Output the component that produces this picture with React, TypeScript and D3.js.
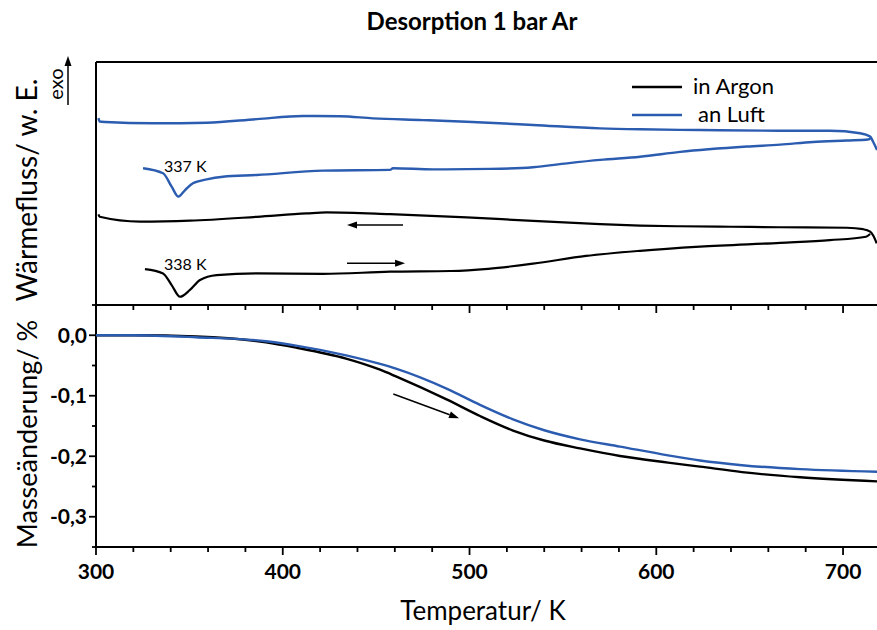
import React from "react";
import * as d3 from "d3";

// ---------- data ----------
const xTicksMajor = [300, 400, 500, 600, 700];
const yTicksMass = [0, -0.1, -0.2, -0.3];
const yTickLabels = ["0,0", "-0,1", "-0,2", "-0,3"];

// DSC (top panel, arbitrary units)
const blueCoolT = [301.3, 302.0, 305, 330.5, 345, 359.4, 386.2, 410.8, 430.7, 448.3, 475.1, 498.5, 534.0, 569.9, 591.3, 623.4, 666.3, 693.0, 709.1, 714.5, 716.1, 718.2];
const blueCoolV = [76.9, 75.5, 75.3, 74.8, 74.8, 75.0, 76.5, 77.8, 77.7, 76.8, 76.1, 75.4, 74.1, 72.7, 72.3, 72.0, 71.7, 71.7, 70.7, 69.3, 67.2, 63.8];

const blueHeatT = [325.2, 335.9, 340.5, 344.1, 347.7, 351.9, 359.3, 368.0, 386.1, 421.6, 457.4, 459.0, 480.5, 511.0, 534.0, 552.2, 569.9, 591.3, 612.7, 648.6, 666.3, 683.9, 702.1, 713.4, 715.0];
const blueHeatV = [56.3, 54.2, 48.7, 44.6, 47.3, 50.1, 51.7, 52.8, 53.5, 55.3, 55.6, 56.3, 55.8, 56.0, 56.7, 58.3, 59.7, 61.0, 63.0, 65.2, 66.0, 67.1, 67.7, 68.1, 68.8];

const blackCoolT = [301.3, 302.0, 323.6, 350.3, 386.1, 412.8, 423.5, 457.4, 498.5, 534.0, 569.9, 591.3, 612.7, 640.0, 666.3, 702.1, 710.7, 714.5, 716.3, 718.0];
const blackCoolV = [37.3, 36.3, 34.3, 34.7, 36.3, 37.7, 38.1, 37.4, 36.1, 34.6, 33.3, 32.7, 32.4, 32.2, 32.0, 31.8, 31.2, 30.2, 28.4, 25.4];

const blackHeatT = [326.2, 335.9, 340.5, 345.0, 350.3, 355.7, 364.6, 386.1, 421.6, 457.4, 490.0, 510.0, 534.0, 562.4, 591.3, 623.4, 666.3, 693.0, 712.3, 714.5];
const blackHeatV = [14.8, 13.0, 8.2, 3.4, 6.2, 10.3, 12.3, 13.0, 12.8, 13.7, 14.0, 14.9, 17.0, 20.2, 22.3, 24.0, 25.6, 26.7, 28.1, 29.2];

// TG (bottom panel, %)
const tgT = [300, 320, 353.5, 391, 407.1, 433.9, 452.1, 460.6, 488.0, 505.6, 523.3, 540.0, 559.2, 580.6, 606.3, 623.4, 645.9, 677.0, 718.2];
const tgBlue = [0, 0, -0.0033, -0.010, -0.0171, -0.0332, -0.0474, -0.0552, -0.0886, -0.1150, -0.1390, -0.1570, -0.1720, -0.1840, -0.1985, -0.2070, -0.2148, -0.2213, -0.2255];
const tgBlack = [0, 0, -0.002, -0.0116, -0.0204, -0.0386, -0.0570, -0.0680, -0.1065, -0.1335, -0.1575, -0.1740, -0.1870, -0.1995, -0.2105, -0.2172, -0.2262, -0.2348, -0.2416];

const seriesNames = ["in Argon", "an Luft"];
const BLUE = "#2b5cb0";
const FONT = "Lato, 'Open Sans', sans-serif";

export default function App() {
  const W = 877, H = 630;
  const left = 96, right = 880.4;
  const x = d3.scaleLinear().domain([300, 720]).range([left, right]);
  const yTop = d3.scaleLinear().domain([0, 100]).range([305, 62]);
  const yBot = d3.scaleLinear().domain([-0.35, 0.05]).range([547, 305]);

  const topLine = d3.line<[number, number]>().x(d => x(d[0])).y(d => yTop(d[1])).curve(d3.curveMonotoneX);
  const botLine = d3.line<[number, number]>().x(d => x(d[0])).y(d => yBot(d[1])).curve(d3.curveMonotoneX);
  const zip = (a: number[], b: number[]) => a.map((v, i) => [v, b[i]] as [number, number]);

  const minor = d3.range(300, 721, 20);
  const yMinor = d3.range(-0.35, 0.051, 0.05);

  const arrow = (x1: number, y1: number, x2: number, y2: number, key: string, sw = 1.5) => {
    const ang = Math.atan2(y2 - y1, x2 - x1);
    const L = 10, Wd = 3.5;
    const bx = x2 - L * Math.cos(ang), by = y2 - L * Math.sin(ang);
    const px = -Math.sin(ang) * Wd, py = Math.cos(ang) * Wd;
    return (
      <g key={key}>
        <line x1={x1} y1={y1} x2={bx} y2={by} stroke="#000" strokeWidth={sw} />
        <path d={`M${x2},${y2}L${bx + px},${by + py}L${bx - px},${by - py}Z`} fill="#000" />
      </g>
    );
  };

  return (
    <svg width={W} height={H} style={{ position: "absolute", left: 0, top: 0, background: "#fff" }} fontFamily={FONT}>
      <rect x={0} y={0} width={W} height={H} fill="#fff" />
      {/* title */}
      <text x={472} y={30} textAnchor="middle" fontWeight="bold" fontSize={24}>Desorption 1 bar Ar</text>

      {/* frame */}
      <line x1={left} y1={62} x2={W} y2={62} stroke="#000" strokeWidth={2} />
      <line x1={left} y1={62} x2={left} y2={547} stroke="#000" strokeWidth={2} />
      <line x1={left} y1={305} x2={W} y2={305} stroke="#000" strokeWidth={2} />
      <line x1={left} y1={547} x2={W} y2={547} stroke="#000" strokeWidth={2} />

      {/* x ticks */}
      {minor.map(t => {
        const maj = t % 100 === 0;
        return (
          <g key={"xt" + t}>
            <line x1={x(t)} x2={x(t)} y1={305} y2={305 + (maj ? 8 : 5)} stroke="#000" strokeWidth={1.8} />
            <line x1={x(t)} x2={x(t)} y1={547} y2={547 + (maj ? 8 : 5)} stroke="#000" strokeWidth={1.8} />
          </g>
        );
      })}
      {xTicksMajor.map(t => (
        <text key={"xl" + t} x={x(t)} y={579} textAnchor="middle" fontWeight="bold" fontSize={21}>{t}</text>
      ))}

      {/* y ticks bottom panel */}
      {yMinor.map((v, i) => {
        const maj = yTicksMass.some(m => Math.abs(m - v) < 1e-6);
        return <line key={"yt" + i} x1={left - (maj ? 7 : 4)} x2={left} y1={yBot(v)} y2={yBot(v)} stroke="#000" strokeWidth={1.8} />;
      })}
      {yTicksMass.map((v, i) => (
        <text key={"yl" + i} x={87} y={yBot(v)} dy="0.36em" textAnchor="end" fontWeight="bold" fontSize={21}>{yTickLabels[i]}</text>
      ))}

      {/* axis titles */}
      <text transform="translate(37,190) rotate(-90)" textAnchor="middle" fontSize={28}>Wärmefluss/ w. E.</text>
      <text transform="translate(37,434) rotate(-90)" textAnchor="middle" fontSize={27}>Masseänderung/ %</text>
      <text x={483} y={620} textAnchor="middle" fontSize={26}>Temperatur/ K</text>

      {/* exo */}
      <text transform="translate(63,84) rotate(-90)" textAnchor="middle" fontSize={20}>exo</text>
      {arrow(68, 105, 68, 56, "exo", 1.5)}

      {/* DSC curves */}
      <path d={topLine(zip(blueCoolT, blueCoolV)) || ""} fill="none" stroke={BLUE} strokeWidth={2.4} />
      <path d={topLine(zip(blueHeatT, blueHeatV)) || ""} fill="none" stroke={BLUE} strokeWidth={2.4} />
      <path d={topLine(zip(blackCoolT, blackCoolV)) || ""} fill="none" stroke="#000" strokeWidth={2.2} />
      <path d={topLine(zip(blackHeatT, blackHeatV)) || ""} fill="none" stroke="#000" strokeWidth={2.2} />

      {/* annotations */}
      <text x={x(336.4)} y={yTop(54.8)} fontSize={16}>337 K</text>
      <text x={x(336.4)} y={yTop(14.4)} fontSize={16}>338 K</text>
      {arrow(x(464.4), yTop(32.9), x(434.4), yTop(32.9), "a1")}
      {arrow(x(434.4), yTop(17.2), x(465.5), yTop(17.2), "a2")}

      {/* TG curves */}
      <path d={botLine(zip(tgT, tgBlack)) || ""} fill="none" stroke="#000" strokeWidth={2.4} />
      <path d={botLine(zip(tgT, tgBlue)) || ""} fill="none" stroke={BLUE} strokeWidth={2.4} />
      {arrow(x(459.2), yBot(-0.0972), x(494.4), yBot(-0.137), "a3")}

      {/* legend */}
      <line x1={632} x2={682} y1={87} y2={87} stroke="#000" strokeWidth={2.4} />
      <text x={693} y={94} fontSize={22}>{seriesNames[0]}</text>
      <line x1={632} x2={682} y1={115} y2={115} stroke={BLUE} strokeWidth={2.4} />
      <text x={698} y={122} fontSize={22}>{seriesNames[1]}</text>
    </svg>
  );
}
